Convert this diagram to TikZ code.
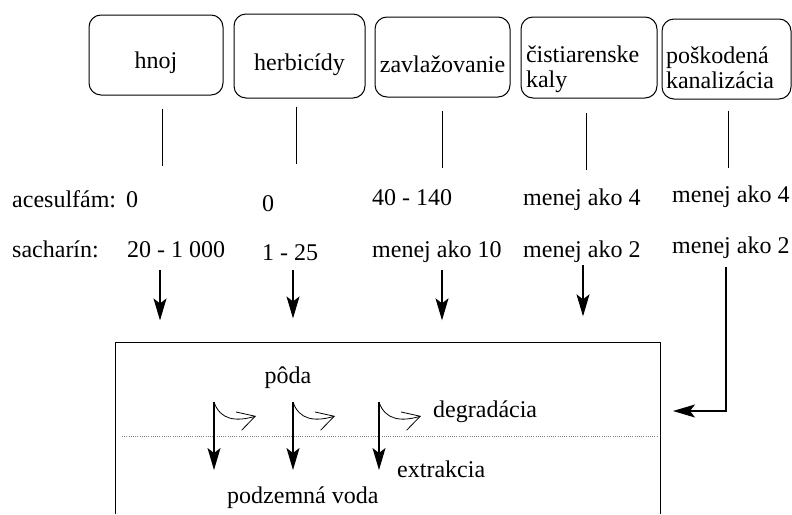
\documentclass[tikz,border=0pt]{standalone}
\usepackage{fontspec}
\setmainfont{Liberation Serif}
\usetikzlibrary{arrows.meta,positioning}

\begin{document}
\begin{tikzpicture}[x=1pt, y=-1pt,
    font=\fontsize{24}{25}\selectfont,
    src/.style={draw, rounded corners=12pt, line width=1pt, inner sep=3pt},
    val/.style={anchor=base west, inner sep=0pt},
    lnk/.style={line width=0.9pt},
    arr/.style={-{Stealth[length=22pt, width=13pt, inset=5pt]}, line width=1.1pt},
    turn/.style={-{Straight Barb[length=17pt, width=19pt]}, line width=0.8pt}
  ]
  \useasboundingbox (0,0) rectangle (792,514);

  % sources
  \node[src, minimum width=134pt, minimum height=80pt, text height=32pt, text depth=6pt] (hnoj) at (156,55) {hnoj};
  \node[src, minimum width=131pt, minimum height=84pt, text height=34pt, text depth=6pt] (herb) at (299.5,56) {herbicídy};
  \node[src, minimum width=135pt, minimum height=80pt, text height=36pt, text depth=6pt, inner xsep=2pt] (zavl) at (442.5,57) {zavlažovanie};
  \node[src, minimum width=136pt, minimum height=81pt, text width=126pt, align=left, text height=40pt, text depth=31pt] (kaly) at (589,57.5) {čistiarenske\\kaly};
  \node[src, minimum width=129pt, minimum height=80pt, text width=121pt, align=left, text height=39pt, text depth=31pt] (kanal) at (726.5,59) {poškodená\\kanalizácia};

  \foreach \n/\dx/\dy in {hnoj/6/13, herb/-3.5/8, zavl/0/13, kaly/-3/14, kanal/1.5/11}
    \draw[lnk] (\n.south) ++(\dx,\dy) -- ++(0,57);

  % concentrations
  \node[val] (ace) at (12,207) {acesulfám:};
  \node[val] (sach) at (12,257) {sacharín:};
  \node[val] (a1) at (126,207) {0};
  \node[val] (a2) at (262,211) {0};
  \node[val] (a3) at (372,205) {40 - 140};
  \node[val] (a4) at (523,205) {menej ako 4};
  \node[val] (a5) at (672,202) {menej ako 4};
  \node[val] (s1) at (127,257) {20 - 1 000};
  \node[val] (s2) at (262,260) {1 - 25};
  \node[val] (s3) at (372,257) {menej ako 10};
  \node[val] (s4) at (523,257) {menej ako 2};
  \node[val] (s5) at (672,253) {menej ako 2};

  \draw[arr] (s1.south west) ++(33,13) -- ++(0,50);
  \draw[arr] (s2.south west) ++(31,10) -- ++(0,48);
  \draw[arr] (s3.south west) ++(70,8) -- ++(0,50);
  \draw[arr] (s4.south west) ++(60,3) -- ++(0,51);

  % soil
  \coordinate (soil nw) at (115,342);
  \coordinate (soil ne) at (660,342);
  \draw[line width=1pt] (soil nw |- 0,514) -- (soil nw) -- (soil ne) -- (soil ne |- 0,514);
  \coordinate (entry) at ([xshift=13pt, yshift=-69pt]soil ne);
  \draw[arr] (s5.south west) ++(54,9) |- (entry);
  \draw[line width=0.7pt, gray, dash pattern=on 1pt off 1.2pt] (122,436) -- (657,436);

  \node[anchor=base, inner sep=0pt] (poda) at (288,383) {pôda};
  \node[val] (degr) at (433,417) {degradácia};
  \node[val] (extr) at (397,477) {extrakcia};
  \node[val] (voda) at (227,503) {podzemná voda};

  \foreach \x [count=\i] in {214,293,379} {
    \coordinate (top\i) at (\x,402);
    \draw[arr] (top\i) -- ++(0,68);
    \draw[turn] (top\i) .. controls +(6,18) and +(-20,6) .. ++(42,14);
  }
\end{tikzpicture}
\end{document}
